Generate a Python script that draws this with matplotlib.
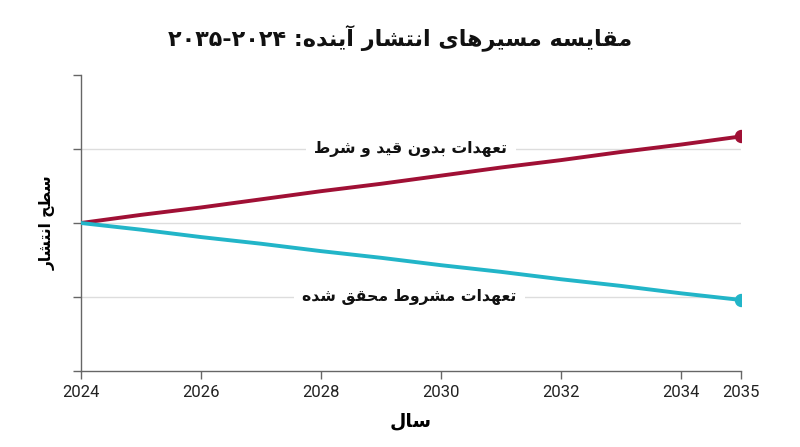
import re

import matplotlib
matplotlib.use("Agg")
import matplotlib.pyplot as plt
from matplotlib import font_manager

years = [2024, 2025, 2026, 2027, 2028, 2029, 2030, 2031, 2032, 2033, 2034, 2035]
unconditional = [0, 0.11, 0.21, 0.32, 0.43, 0.53, 0.64, 0.75, 0.85, 0.96, 1.06, 1.17]
conditional = [0, -0.09, -0.19, -0.28, -0.38, -0.47, -0.57, -0.66, -0.76, -0.85, -0.95, -1.04]
x_ticks = [2024, 2026, 2028, 2030, 2032, 2034, 2035]
y_ticks = [-2, -1, 0, 1, 2]

title_text = "مقایسه مسیرهای انتشار آینده: ۲۰۲۴-۲۰۳۵"
label_unconditional = "تعهدات بدون قید و شرط"
label_conditional = "تعهدات مشروط محقق شده"
x_title = "سال"
y_title = "سطح انتشار"

RED = "#a01035"
BLUE = "#22b5c8"

# isolated, final, initial, medial presentation forms
FORMS = {
  "ا": ("\uFE8D", "\uFE8E", None, None),
  "آ": ("\uFE81", "\uFE82", None, None),
  "ب": ("\uFE8F", "\uFE90", "\uFE91", "\uFE92"),
  "ت": ("\uFE95", "\uFE96", "\uFE97", "\uFE98"),
  "ح": ("\uFEA1", "\uFEA2", "\uFEA3", "\uFEA4"),
  "د": ("\uFEA9", "\uFEAA", None, None),
  "ر": ("\uFEAD", "\uFEAE", None, None),
  "س": ("\uFEB1", "\uFEB2", "\uFEB3", "\uFEB4"),
  "ش": ("\uFEB5", "\uFEB6", "\uFEB7", "\uFEB8"),
  "ط": ("\uFEC1", "\uFEC2", "\uFEC3", "\uFEC4"),
  "ع": ("\uFEC9", "\uFECA", "\uFECB", "\uFECC"),
  "ق": ("\uFED5", "\uFED6", "\uFED7", "\uFED8"),
  "ل": ("\uFEDD", "\uFEDE", "\uFEDF", "\uFEE0"),
  "م": ("\uFEE1", "\uFEE2", "\uFEE3", "\uFEE4"),
  "ن": ("\uFEE5", "\uFEE6", "\uFEE7", "\uFEE8"),
  "ه": ("\uFEE9", "\uFEEA", "\uFEEB", "\uFEEC"),
  "و": ("\uFEED", "\uFEEE", None, None),
  "ی": ("\uFBFC", "\uFBFD", "\uFBFE", "\uFBFF"),
}


def fa(text):
  shaped = []
  for i, ch in enumerate(text):
    if ch not in FORMS:
      shaped.append(ch)
      continue
    iso, fin, ini, med = FORMS[ch]
    prev = text[i - 1] if i > 0 else ""
    nxt = text[i + 1] if i + 1 < len(text) else ""
    join_prev = prev in FORMS and FORMS[prev][2] is not None
    join_next = ini is not None and nxt in FORMS
    if join_prev and join_next:
      shaped.append(med)
    elif join_prev:
      shaped.append(fin)
    elif join_next:
      shaped.append(ini)
    else:
      shaped.append(iso)
  tokens = re.findall(r"[0-9\u06F0-\u06F9]+|.", "".join(shaped))
  return "".join(reversed(tokens))


installed = {f.name for f in font_manager.fontManager.ttflist}
tick_font = "Liberation Sans Narrow" if "Liberation Sans Narrow" in installed else "Roboto"

fig = plt.figure(figsize=(8, 4.47), dpi=100)
ax = fig.add_axes([0.10125, 0.17, 0.825, 0.6622])

for y in [-1, 0, 1]:
  ax.axhline(y, color="#dddddd", linewidth=1, zorder=1)

ax.plot(years, unconditional, color=RED, linewidth=2.8, solid_capstyle="round", zorder=3)
ax.plot(years, conditional, color=BLUE, linewidth=2.8, solid_capstyle="round", zorder=3)
ax.plot(years[-1], unconditional[-1], "o", color=RED, markersize=8.6, zorder=4)
ax.plot(years[-1], conditional[-1], "o", color=BLUE, markersize=8.6, zorder=4)

box = dict(facecolor="white", edgecolor="none", pad=6)
ax.text(2029.5, 1, fa(label_unconditional), ha="center", va="center", fontsize=11.3,
        fontweight="bold", color="#111111", bbox=box, zorder=2)
ax.text(2029.47, -1, fa(label_conditional), ha="center", va="center", fontsize=11.3,
        fontweight="bold", color="#111111", bbox=box, zorder=2)

ax.set_xlim(2024, 2035)
ax.set_ylim(-2, 2)
ax.set_xticks(x_ticks)
ax.set_xticklabels([str(t) for t in x_ticks], fontfamily=tick_font, fontsize=12, color="#222222")
ax.set_yticks(y_ticks)
ax.set_yticklabels([])
ax.tick_params(axis="both", length=6, width=1, color="#666666", pad=4)

for side in ("top", "right"):
  ax.spines[side].set_visible(False)
for side in ("left", "bottom"):
  ax.spines[side].set_color("#666666")
  ax.spines[side].set_linewidth(1)

ax.set_xlabel(fa(x_title), fontsize=13.5, fontweight="bold")
ax.xaxis.set_label_coords(0.5, -0.135)
ax.set_ylabel(fa(y_title), fontsize=11.2, fontweight="bold")
ax.yaxis.set_label_coords(-0.038, 0.5)

fig.text(0.5, 0.915, fa(title_text), ha="center", va="center", fontsize=16, fontweight="bold", color="#111111")

fig.savefig("out.png", dpi=100, facecolor="white")
